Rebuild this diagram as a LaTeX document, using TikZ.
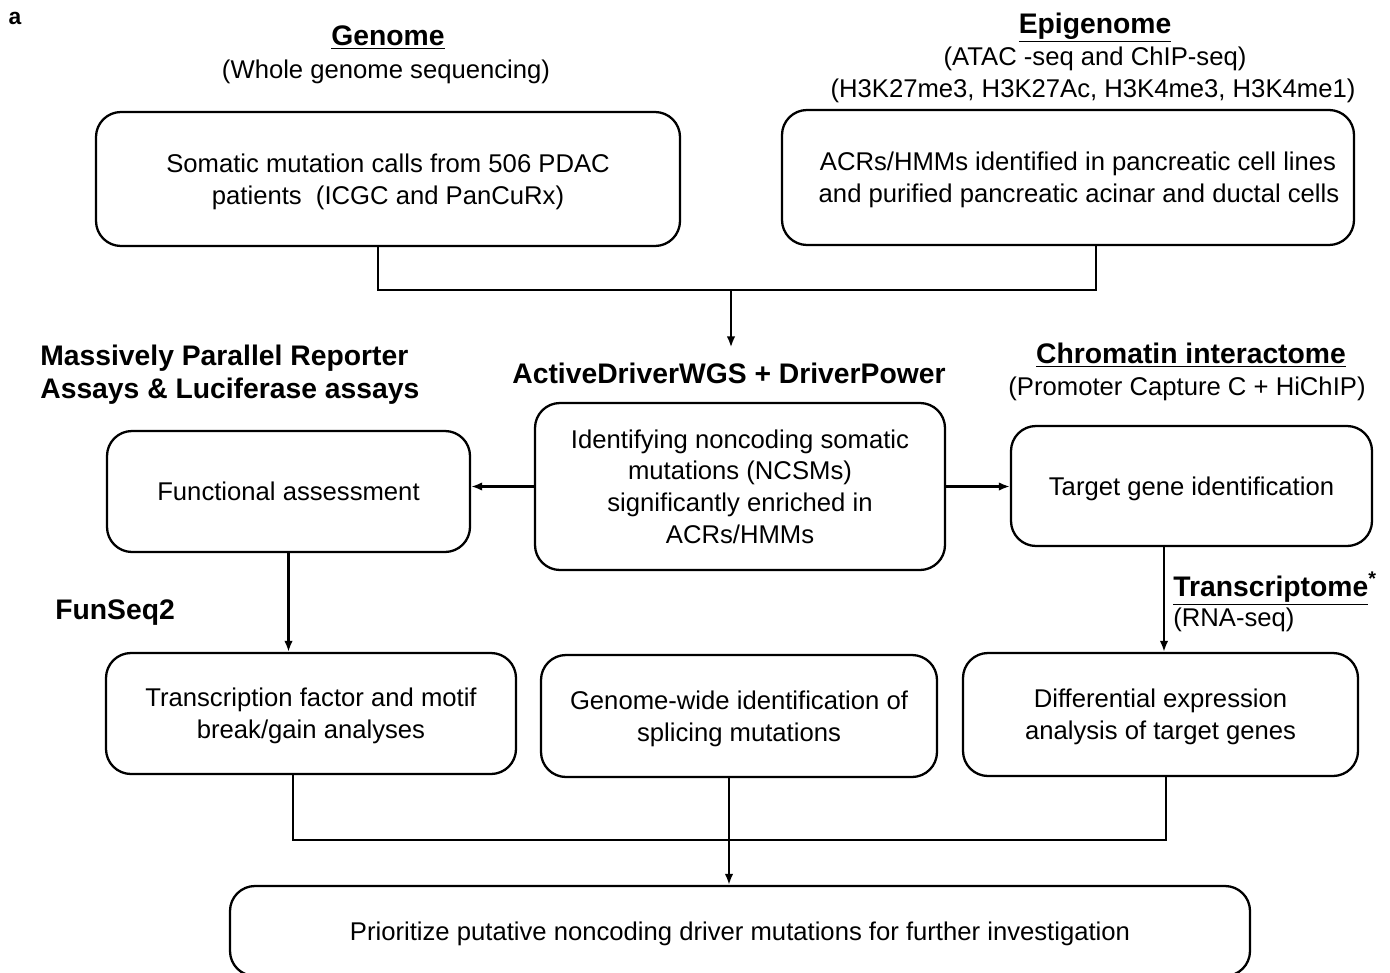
\documentclass[tikz,border=0pt]{standalone}
\usepackage{fontspec}
\setmainfont{Liberation Sans}
\usetikzlibrary{arrows.meta}
\begin{document}
\begin{tikzpicture}
				\tikzset{boite/.style={draw=black, rounded corners=0.5cm, line width=1.3pt, inner sep=0pt, text depth=0pt, align=center, font=\fontsize{14.6}{18.1}\selectfont},
				fleche/.style={>={Latex[length=0.22cm, width=0.17cm]}, ->},
				trait/.style={line width=1.2pt},
				titre/.style={inner sep=0pt, text depth=0pt, align=center, font=\fontsize{16.1}{18.7}\selectfont\bfseries},
				texte/.style={inner sep=0pt, text depth=0pt, align=center, font=\fontsize{14.6}{18.1}\selectfont}};
				\useasboundingbox (0,0) rectangle (27.8,-19.46);
				\clip (0,0) rectangle (27.8,-19.46);

				\node[inner sep=0pt, font=\fontsize{13}{15}\selectfont\bfseries] (lettre) at (0.30,-0.36) {a};

				% en-tetes
				\node[titre] (tgenome) at (7.76,-0.72) {\underline{Genome}};
				\node[texte] (wgs) at (7.72,-1.38) {(Whole genome sequencing)};
				\node[titre] (tepi) at (21.90,-0.46) {\underline{Epigenome}};
				\node[texte] (atac) at (21.90,-1.12) {(ATAC -seq and ChIP-seq)};
				\node[texte] (histones) at (21.86,-1.76) {(H3K27me3, H3K27Ac, H3K4me3, H3K4me1)};
				\node[titre, anchor=west, align=left] (mpra) at (0.80,-7.43) {Massively Parallel Reporter\\Assays \& Luciferase assays};
				\node[titre] (adw) at (14.58,-7.46) {ActiveDriverWGS + DriverPower};
				\node[titre] (tchrom) at (23.82,-7.06) {\underline{Chromatin interactome}};
				\node[texte] (pcc) at (23.74,-7.72) {(Promoter Capture C + HiChIP)};
				\node[titre, anchor=west] (funseq) at (1.10,-12.20) {FunSeq2};
				\node[titre, anchor=west] (ttrans) at (23.46,-11.68) {\underline{Transcriptome}\textsuperscript{*}};
				\node[texte, anchor=west] (rnaseq) at (23.46,-12.34) {(RNA-seq)};

				% boites
				\node[boite, minimum width=11.68cm, minimum height=2.68cm] (genome) at (7.76,-3.58) {Somatic mutation calls from 506 PDAC\\patients\ \ (ICGC and PanCuRx)};
				\node[boite, minimum width=11.44cm, minimum height=2.70cm] (epi) at (21.36,-3.55) {\hspace*{0.40cm}ACRs/HMMs identified in pancreatic cell lines\\\hspace*{0.44cm}and purified pancreatic acinar and ductal cells};
				\node[boite, minimum width=8.20cm, minimum height=3.34cm] (ident) at (14.80,-9.73) {Identifying noncoding somatic\\mutations (NCSMs)\\significantly enriched in\\ACRs/HMMs};
				\node[boite, minimum width=7.26cm, minimum height=2.42cm] (func) at (5.77,-9.83) {Functional assessment};
				\node[boite, minimum width=7.22cm, minimum height=2.40cm] (target) at (23.83,-9.72) {Target gene identification};
				\node[boite, minimum width=8.20cm, minimum height=2.42cm] (tf) at (6.22,-14.27) {Transcription factor and motif\\break/gain analyses};
				\node[boite, minimum width=7.92cm, minimum height=2.44cm] (splice) at (14.78,-14.32) {Genome-wide identification of\\splicing mutations};
				\node[boite, minimum width=7.90cm, minimum height=2.46cm] (diff) at (23.21,-14.29) {Differential expression\\analysis of target genes};
				\node[boite, minimum width=20.40cm, minimum height=1.80cm] (prio) at (14.80,-18.62) {Prioritize putative noncoding driver mutations for further investigation};

				\coordinate (joinhaut) at (14.62,-5.80);
				\coordinate (joinbas) at (14.58,-16.80);

				\draw[trait] ([xshift=-0.2cm]genome.south) |- (joinhaut) -| ([xshift=0.56cm]epi.south);
				\draw[trait, fleche] (joinhaut) -- ([yshift=0.3cm]adw.north -| joinhaut);
				\draw[trait, fleche] (ident.west) -- (func.east |- ident.west);
				\draw[trait, fleche] (ident.east) -- (target.west |- ident.east);
				\draw[trait, fleche] (func.south) -- (tf.north -| func.south);
				\draw[trait, fleche] ([xshift=0.07cm]target.south -| diff.north) -- ([xshift=0.07cm]diff.north);
				\draw[trait] ([xshift=-0.36cm]tf.south) |- (joinbas) -| ([xshift=0.11cm]diff.south);
				\draw[trait, fleche] (splice.south -| joinbas) -- (prio.north -| joinbas);
			\end{tikzpicture}
\end{document}
